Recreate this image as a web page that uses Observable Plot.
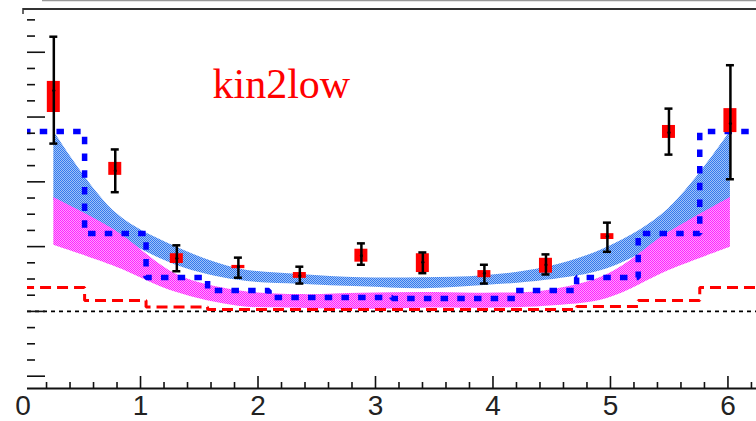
<!DOCTYPE html>
<html>
<head>
<meta charset="utf-8">
<script src="https://cdn.jsdelivr.net/npm/d3@7"></script>
<script src="https://cdn.jsdelivr.net/npm/@observablehq/plot@0.6"></script>
<style>
  html, body { margin: 0; padding: 0; background: #fff; }
  #chart { position: relative; width: 756px; height: 421px; overflow: hidden; }
</style>
</head>
<body>
<svg width="0" height="0" style="position:absolute">
  <defs>
    <pattern id="bluePat" width="2" height="2" patternUnits="userSpaceOnUse">
      <rect width="2" height="2" fill="#9fc3f7"></rect>
      <rect width="1" height="1" fill="#3579ee"></rect>
      <rect x="1" y="1" width="1" height="1" fill="#3579ee"></rect>
    </pattern>
    <pattern id="magPat" width="2" height="2" patternUnits="userSpaceOnUse">
      <rect width="2" height="2" fill="#ff9cff"></rect>
      <rect width="1" height="1" fill="#ff22ff"></rect>
      <rect x="1" y="1" width="1" height="1" fill="#ff22ff"></rect>
    </pattern>
  </defs>
</svg>
<div id="chart"></div>
<script>
// ---- data ----
const xCenters = [0.262, 0.785, 1.309, 1.833, 2.356, 2.880, 3.403, 3.927, 4.451, 4.974, 5.498, 6.021];
const values   = [3.41, 2.17, 0.82, 0.69, 0.55, 0.86, 0.76, 0.59, 0.72, 1.16, 2.76, 2.90];
const statLo   = [2.59, 1.84, 0.62, 0.52, 0.43, 0.72, 0.59, 0.43, 0.57, 0.92, 2.42, 2.04];
const statHi   = [4.24, 2.50, 1.02, 0.83, 0.69, 1.05, 0.91, 0.72, 0.88, 1.37, 3.13, 3.80];
const sysLo    = [3.07, 2.10, 0.74, 0.66, 0.51, 0.76, 0.60, 0.52, 0.59, 1.11, 2.67, 2.76];
const sysHi    = [3.55, 2.30, 0.89, 0.71, 0.60, 0.96, 0.89, 0.63, 0.82, 1.20, 2.87, 3.13];

const blueBandHi = [2.78, 1.53, 0.99, 0.66, 0.57, 0.52, 0.52, 0.55, 0.68, 0.99, 1.59, 2.78];
const blueBandLo = [1.71, 1.17, 0.71, 0.48, 0.42, 0.38, 0.35, 0.40, 0.48, 0.66, 1.13, 1.71];
const magBandHi  = [1.76, 1.25, 0.57, 0.32, 0.26, 0.28, 0.29, 0.28, 0.32, 0.57, 1.22, 1.76];
const magBandLo  = [1.02, 0.69, 0.29, 0.08, 0.05, 0.03, 0.05, 0.05, 0.08, 0.20, 0.63, 0.99];

const binEdges  = [0, 0.524, 1.047, 1.571, 2.094, 2.618, 3.142, 3.665, 4.189, 4.712, 5.236, 5.760, 6.283];
const blueHist  = [2.776, 1.202, 0.523, 0.322, 0.215, 0.215, 0.199, 0.199, 0.322, 0.523, 1.202, 2.776];
const redHist   = [0.369, 0.168, 0.068, 0.029, 0.029, 0.029, 0.029, 0.029, 0.029, 0.076, 0.168, 0.369];

const xTickLabels = [0, 1, 2, 3, 4, 5, 6];
const xMinorTicks = [0.2,0.4,0.6,0.8,1.2,1.4,1.6,1.8,2.2,2.4,2.6,2.8,3.2,3.4,3.6,3.8,4.2,4.4,4.6,4.8,5.2,5.4,5.6,5.8,6.2];
const yMajorTicks = [-1, 0, 1, 2, 3, 4];
const yMinorTicks = [-0.75,-0.5,-0.25,0.25,0.5,0.75,1.25,1.5,1.75,2.25,2.5,2.75,3.25,3.5,3.75,4.25,4.5];
const labelText = "kin2low";

// ---- build tables ----
const points = xCenters.map((x, i) => ({x, v: values[i], lo: statLo[i], hi: statHi[i], sLo: sysLo[i], sHi: sysHi[i]}));
const bands = xCenters.map((x, i) => ({x, bHi: blueBandHi[i], bLo: blueBandLo[i], mHi: magBandHi[i], mLo: magBandLo[i]}));
const stepRows = (vals) => binEdges.map((e, i) => ({x: e, y: vals[Math.min(i, vals.length - 1)]}));

const yDomain = [-1.19, 4.66];
const xDomain = [0.038, 6.243];
const boxHalf = 0.0553;
const capHalf = 0.034;

const chart = Plot.plot({
  width: 756,
  height: 421,
  marginLeft: 27,
  marginRight: 0,
  marginTop: 9,
  marginBottom: 33,
  style: {background: "#fff", overflow: "visible"},
  x: {domain: xDomain, axis: null},
  y: {domain: yDomain, axis: null},
  marks: [
    Plot.areaY(bands, {x: "x", y1: "bLo", y2: "bHi", fill: "url(#bluePat)", curve: "catmull-rom"}),
    Plot.areaY(bands, {x: "x", y1: "mLo", y2: "mHi", fill: "url(#magPat)", curve: "catmull-rom"}),
    Plot.ruleY([0], {stroke: "#000", strokeWidth: 1.6, strokeDasharray: "4 4", strokeLinecap: "butt"}),
    Plot.line(stepRows(redHist), {x: "x", y: "y", curve: "step-after", stroke: "#ff0000", strokeWidth: 3, strokeDasharray: "11 6", strokeLinecap: "butt", strokeLinejoin: "miter", clip: true}),
    Plot.line(stepRows(blueHist), {x: "x", y: "y", curve: "step-after", stroke: "#0000ff", strokeWidth: 5.5, strokeDasharray: "7.5 9.2", strokeLinecap: "butt", strokeLinejoin: "miter", clip: true}),
    Plot.rect(points, {x1: d => d.x - boxHalf, x2: d => d.x + boxHalf, y1: "sLo", y2: "sHi", fill: "#ff0000"}),
    Plot.ruleX(points, {x: "x", y1: "lo", y2: "hi", stroke: "#000", strokeWidth: 2.5}),
    Plot.ruleY(points, {y: "lo", x1: d => d.x - capHalf, x2: d => d.x + capHalf, stroke: "#000", strokeWidth: 2.5}),
    Plot.ruleY(points, {y: "hi", x1: d => d.x - capHalf, x2: d => d.x + capHalf, stroke: "#000", strokeWidth: 2.5}),
    Plot.dot(points, {x: "x", y: "v", r: 1.6, fill: "#000"}),
    // axes
    Plot.ruleY([yDomain[0]], {stroke: "#111", strokeWidth: 2}),
    Plot.ruleX(xTickLabels.filter(t => t > 0), {x: d => d, stroke: "#111", strokeWidth: 1.6, insetTop: 367}),
    Plot.ruleX(xMinorTicks, {x: d => d, stroke: "#111", strokeWidth: 1.6, insetTop: 373}),
    Plot.ruleY(yMajorTicks, {y: d => d, stroke: "#111", strokeWidth: 1.6, insetRight: 711}),
    Plot.ruleY(yMinorTicks, {y: d => d, stroke: "#111", strokeWidth: 1.6, insetRight: 721}),
    Plot.text(xTickLabels, {x: d => d, text: d => String(d), frameAnchor: "bottom", dy: 18, lineAnchor: "middle", fontSize: 28, fontFamily: "Liberation Sans, Arial, sans-serif", fill: "#222"}),
    Plot.text([labelText], {text: d => d, frameAnchor: "top-left", dx: 185, dy: 88, lineAnchor: "bottom", textAnchor: "start", fontSize: 42, fontFamily: "Liberation Serif, Times New Roman, serif", fill: "#ff0000"})
  ]
});

// frame decorations (top border and outer pad line)
const svg = d3.select(chart);
svg.append("line").attr("x1", 42).attr("x2", 756).attr("y1", 0.5).attr("y2", 0.5).attr("stroke", "#999").attr("stroke-width", 1.5);
svg.append("line").attr("x1", 23).attr("x2", 756).attr("y1", 9).attr("y2", 9).attr("stroke", "#333").attr("stroke-width", 2);
svg.append("line").attr("x1", 23).attr("x2", 23).attr("y1", 8).attr("y2", 14).attr("stroke", "#333").attr("stroke-width", 1.5);

document.getElementById("chart").appendChild(chart);
</script>
</body>
</html>
